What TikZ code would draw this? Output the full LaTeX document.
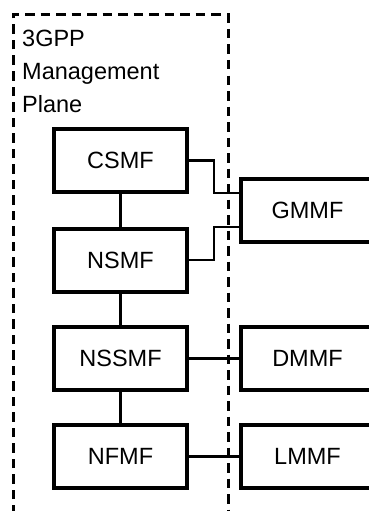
\documentclass[tikz,border=0pt]{standalone}
\usepackage{fontspec}
\setmainfont{Liberation Sans}
\begin{document}
\begin{tikzpicture}[x=1pt,y=-1pt,
        box/.style={draw, line width=4pt, minimum width=133pt, minimum height=63pt, font=\fontsize{23.5}{33}\selectfont},
        link/.style={line width=2.2pt}]
        \useasboundingbox (0,0) rectangle (369,511);

        \draw[line width=3pt, dash pattern=on 9.5pt off 6pt] (13,530) -- (13,15) -- (228,15) -- (228,530);
        \node[anchor=north west, align=left, inner sep=0pt, font=\fontsize{23.5}{33}\selectfont] (plane) at (22,30) {3GPP\\Management\\Plane};

        \node[box] (csmf) at (120.5,160.5) {CSMF};
        \node[box] (nsmf) at (120.5,260) {NSMF};
        \node[box] (nssmf) at (120.5,358.5) {NSSMF};
        \node[box] (nfmf) at (120.5,456.5) {NFMF};

        \node[box] (gmmf) at (307.5,210) {GMMF};
        \node[box] (dmmf) at (307.5,358.5) {DMMF};
        \node[box] (lmmf) at (307.5,456.5) {LMMF};

        \draw[link] (csmf) -- (nsmf);
        \draw[link] (nsmf) -- (nssmf);
        \draw[link] (nssmf) -- (nfmf);
        \draw[link] (csmf.east) -- ++(25,0) |- ([yshift=17pt]gmmf.west);
        \draw[link] (nsmf.east) -- ++(25,0) |- ([yshift=-17pt]gmmf.west);
        \draw[link] (nssmf) -- (dmmf);
        \draw[link] (nfmf) -- (lmmf);
    \end{tikzpicture}
\end{document}
